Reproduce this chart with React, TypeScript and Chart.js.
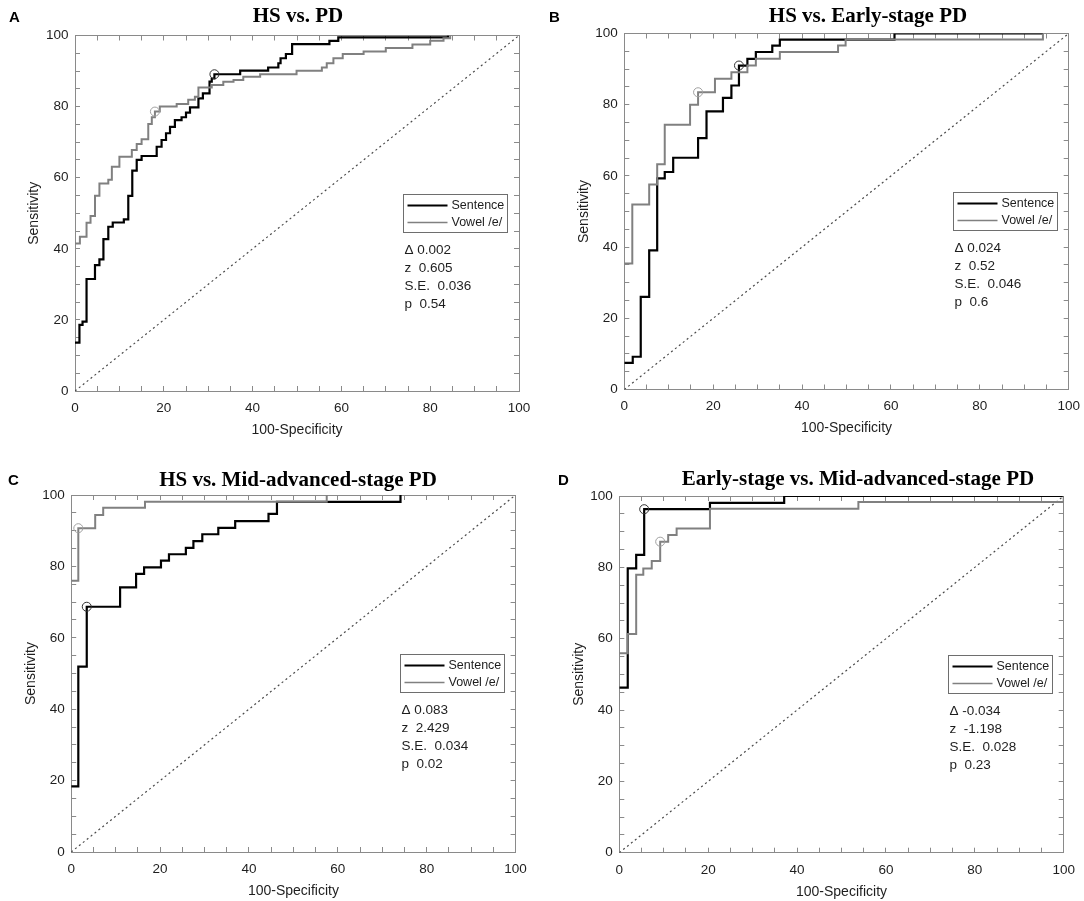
import React, { useEffect, useRef } from 'react';
import { Chart, registerables } from 'chart.js';

Chart.register(...registerables);

const SANS = '"Liberation Sans", Arial, Helvetica, sans-serif';
const SERIF = '"Liberation Serif", "Times New Roman", serif';

// ---------- data ----------
const titles = ['HS vs. PD', 'HS vs. Early-stage PD', 'HS vs. Mid-advanced-stage PD', 'Early-stage vs. Mid-advanced-stage PD'];
const letters = ['A', 'B', 'C', 'D'];
const seriesNames = ['Sentence', 'Vowel /e/'];
const xAxisTitle = '100-Specificity';
const yAxisTitle = 'Sensitivity';
const tickStep = 5;
const labelStep = 20;

// Panel A: HS vs. PD
const aSentenceX = [0, 1.0, 1.7, 2.6, 4.5, 5.5, 6.4, 7.5, 8.5, 11.0, 12.0, 12.9, 13.9, 15.0, 18.4, 19.5, 20.5, 21.4, 22.5, 24.0, 25.0, 25.9, 27.8, 28.8, 30.3, 30.8, 31.4, 37.2, 43.5, 45.8, 46.3, 47.5, 48.9, 57.3, 59.3, 84.0];
const aSentenceY = [13.6, 18.6, 19.5, 31.5, 35.4, 37.0, 42.7, 46.2, 47.4, 48.3, 54.9, 62.0, 65.0, 66.1, 68.7, 70.6, 72.5, 74.3, 76.2, 77.0, 78.3, 79.8, 82.3, 83.7, 87.0, 87.9, 89.1, 90.1, 91.0, 92.2, 93.6, 94.8, 97.6, 98.5, 99.5, 100];
const aVowelX = [0, 1.1, 2.6, 3.5, 4.5, 5.5, 7.5, 8.3, 10.0, 12.8, 13.9, 15.0, 16.5, 17.3, 18.0, 19.1, 22.9, 25.5, 27.0, 27.8, 30.8, 33.4, 35.7, 37.9, 41.7, 49.9, 55.6, 56.7, 58.2, 60.3, 65.0, 70.0, 76.0, 80.0, 83.0, 84.5];
const aVowelY = [41.5, 43.4, 47.3, 49.2, 54.9, 58.4, 59.4, 63.1, 65.9, 67.8, 69.5, 70.8, 75.1, 77.0, 78.6, 80.0, 80.7, 81.9, 82.8, 85.4, 86.1, 87.0, 87.5, 88.4, 89.1, 90.1, 91.0, 92.2, 93.6, 94.8, 95.5, 96.5, 97.5, 98.5, 99.2, 100];
const aOptimalX = [31.4, 18.0];
const aOptimalY = [89.1, 78.6];

// Panel B: HS vs. Early-stage PD
const bSentenceX = [0, 1.9, 3.7, 5.6, 7.4, 9.1, 11.0, 16.6, 18.5, 22.2, 24.1, 25.8, 27.7, 29.6, 33.3, 35.0, 60.8, 94.2];
const bSentenceY = [7.5, 9.2, 26.0, 39.1, 59.3, 61.1, 65.1, 70.6, 78.1, 81.9, 85.4, 91.0, 92.9, 94.8, 96.6, 98.3, 100, 100];
const bVowelX = [0, 1.8, 5.6, 7.4, 9.1, 14.8, 16.6, 20.4, 24.1, 27.7, 29.6, 35.0, 48.1, 49.8, 94.2];
const bVowelY = [35.4, 52.0, 57.6, 63.3, 74.4, 80.0, 83.5, 87.3, 89.1, 91.0, 92.9, 94.8, 96.6, 98.3, 100];
const bOptimalX = [25.8, 16.6];
const bOptimalY = [91.0, 83.5];

// Panel C: HS vs. Mid-advanced-stage PD
const cSentenceX = [0, 1.6, 3.5, 11.0, 14.6, 16.4, 20.2, 22.0, 25.8, 27.5, 29.5, 33.1, 36.9, 44.4, 46.3, 74.1];
const cSentenceY = [18.4, 51.9, 68.7, 74.1, 77.9, 79.7, 81.6, 83.4, 85.2, 87.1, 89.0, 90.8, 92.7, 94.7, 98.1, 100];
const cVowelX = [0, 1.6, 5.4, 7.2, 16.6, 57.5];
const cVowelY = [76.0, 90.7, 94.4, 96.4, 98.1, 100];
const cOptimalX = [3.5, 1.6];
const cOptimalY = [68.7, 90.7];

// Panel D: Early-stage vs. Mid-advanced-stage PD
const dSentenceX = [0, 1.9, 3.8, 5.6, 20.4, 37.1, 100];
const dSentenceY = [46.3, 79.7, 83.5, 96.3, 98.1, 100, 100];
const dVowelX = [0, 1.9, 3.8, 5.4, 7.3, 9.2, 11.0, 12.9, 20.4, 53.8, 100];
const dVowelY = [55.9, 61.3, 77.9, 79.7, 81.8, 87.2, 89.1, 90.9, 96.4, 98.3, 100];
const dOptimalX = [5.6, 9.2];
const dOptimalY = [96.3, 87.2];

// chance line
const chanceX = [0, 100];
const chanceY = [0, 100];

// comparison statistics
const deltaValues = ['0.002', '0.024', '0.083', '-0.034'];
const zValues = ['0.605', '0.52', '2.429', '-1.198'];
const seValues = ['0.036', '0.046', '0.034', '0.028'];
const pValues = ['0.54', '0.6', '0.02', '0.23'];

const sentenceXs = [aSentenceX, bSentenceX, cSentenceX, dSentenceX];
const sentenceYs = [aSentenceY, bSentenceY, cSentenceY, dSentenceY];
const vowelXs = [aVowelX, bVowelX, cVowelX, dVowelX];
const vowelYs = [aVowelY, bVowelY, cVowelY, dVowelY];
const optimalXs = [aOptimalX, bOptimalX, cOptimalX, dOptimalX];
const optimalYs = [aOptimalY, bOptimalY, cOptimalY, dOptimalY];

// ---------- layout (page coordinates) ----------
const LAYOUT = [
  { left: 0, top: 0, height: 452, area: { l: 75, t: 35.5, r: 519, b: 391 }, letter: [9, 18], title: [298, 21.5] },
  { left: 542, top: 0, height: 452, area: { l: 624.3, t: 33.5, r: 1068.7, b: 389.5 }, letter: [549, 18], title: [868, 21.5] },
  { left: 0, top: 455, height: 446, area: { l: 71.2, t: 495, r: 515.6, b: 852 }, letter: [8, 481], title: [298, 486] },
  { left: 542, top: 455, height: 446, area: { l: 619.3, t: 496, r: 1063.7, b: 852.7 }, letter: [558, 481], title: [858, 485] },
];
const RIGHT_PAD = 30;

const AXIS_COLOR = '#8a8a8a';
const TEXT_COLOR = '#1e1e1e';

const toPoints = (xs: number[], ys: number[]) => xs.map((x, i) => ({ x, y: ys[i] }));

function Panel({ idx }: { idx: number }) {
  const ref = useRef<HTMLCanvasElement | null>(null);
  const box = LAYOUT[idx];
  const width = Math.ceil(box.area.r - box.left + RIGHT_PAD);

  useEffect(() => {
    const a = box.area;
    const L = a.l - box.left;
    const T = a.t - box.top;
    const R = a.r - box.left;
    const B = a.b - box.top;
    const xAxisH = box.height - B;
    const titleLH = 14 * 1.2;

    const overlay = {
      id: 'overlay' + idx,
      afterDraw(chart: any) {
        const ctx = chart.ctx as CanvasRenderingContext2D;
        const ca = chart.chartArea;
        ctx.save();
        // panel letter
        ctx.fillStyle = '#000';
        ctx.font = `bold 15px ${SANS}`;
        ctx.textAlign = 'left';
        ctx.textBaseline = 'middle';
        ctx.fillText(letters[idx], box.letter[0] - box.left, box.letter[1] - box.top);
        // title
        ctx.font = `bold 21px ${SERIF}`;
        ctx.textAlign = 'center';
        ctx.textBaseline = 'alphabetic';
        ctx.fillText(titles[idx], box.title[0] - box.left, box.title[1] - box.top);
        // legend box
        const bw = 104;
        const bh = 38;
        const bx0 = Math.round(ca.right - 12 - bw) + 0.5;
        const by0 = Math.round(ca.top + 158.5) + 0.5;
        ctx.fillStyle = '#fff';
        ctx.fillRect(bx0, by0, bw, bh);
        ctx.strokeStyle = '#6e6e6e';
        ctx.lineWidth = 1;
        ctx.strokeRect(bx0, by0, bw, bh);
        const rows = [by0 + 11, by0 + 28];
        const lineColors = ['#000', '#808080'];
        const lineWidths = [2, 1.6];
        ctx.font = `12.5px ${SANS}`;
        ctx.textAlign = 'left';
        ctx.textBaseline = 'middle';
        for (let i = 0; i < 2; i++) {
          ctx.beginPath();
          ctx.strokeStyle = lineColors[i];
          ctx.lineWidth = lineWidths[i];
          ctx.moveTo(bx0 + 4, rows[i]);
          ctx.lineTo(bx0 + 44, rows[i]);
          ctx.stroke();
          ctx.fillStyle = TEXT_COLOR;
          ctx.fillText(seriesNames[i], bx0 + 48, rows[i] + 0.5);
        }
        // stats
        ctx.font = `13.5px ${SANS}`;
        const stats = [
          '\u0394 ' + deltaValues[idx],
          'z  ' + zValues[idx],
          'S.E.  ' + seValues[idx],
          'p  ' + pValues[idx],
        ];
        stats.forEach((s, i) => {
          ctx.fillText(s, bx0 + 1, by0 + 56 + i * 18);
        });
        ctx.restore();
      },
    };

    const tickFont = { family: SANS, size: 13.5 };
    const titleFont = { family: SANS, size: 14 };
    const labelCb = (v: any) => (Number(v) % labelStep === 0 ? String(v) : '');

    const chart = new Chart(ref.current as HTMLCanvasElement, {
      type: 'line',
      data: {
        datasets: [
          {
            label: 'optimal',
            data: toPoints(optimalXs[idx], optimalYs[idx]),
            showLine: false,
            pointRadius: 4.5,
            pointStyle: 'circle',
            pointBackgroundColor: 'rgba(0,0,0,0)',
            pointBorderColor: ['#333333', '#a0a0a0'],
            pointBorderWidth: 1,
            order: 0,
          } as any,
          {
            label: seriesNames[1],
            data: toPoints(vowelXs[idx], vowelYs[idx]),
            borderColor: '#808080',
            borderWidth: 2,
            pointRadius: 0,
            stepped: true,
            fill: false,
            order: 1,
          },
          {
            label: seriesNames[0],
            data: toPoints(sentenceXs[idx], sentenceYs[idx]),
            borderColor: '#000000',
            borderWidth: 2.2,
            pointRadius: 0,
            stepped: true,
            fill: false,
            order: 2,
          },
          {
            label: 'chance',
            data: toPoints(chanceX, chanceY),
            borderColor: '#4a4a4a',
            borderWidth: 1.2,
            borderDash: [2, 3],
            pointRadius: 0,
            fill: false,
            order: 3,
          },
        ],
      },
      options: {
        responsive: false,
        animation: false,
        events: [],
        layout: { padding: { left: 0, top: T, right: width - R, bottom: 0 } },
        plugins: { legend: { display: false }, tooltip: { enabled: false }, title: { display: false } },
        scales: {
          x: {
            type: 'linear',
            position: 'bottom',
            min: 0,
            max: 100,
            afterFit: (s: any) => { s.height = xAxisH; },
            ticks: { stepSize: tickStep, autoSkip: false, maxRotation: 0, minRotation: 0, padding: 14, color: TEXT_COLOR, font: tickFont, callback: labelCb },
            grid: { drawOnChartArea: false, drawTicks: true, tickLength: -5, color: AXIS_COLOR, lineWidth: 1 },
            border: { display: true, color: AXIS_COLOR, width: 1 },
            title: { display: true, text: xAxisTitle, color: TEXT_COLOR, font: titleFont, padding: { top: 0, bottom: xAxisH - 39 - titleLH / 2 } },
          },
          y: {
            type: 'linear',
            position: 'left',
            min: 0,
            max: 100,
            afterFit: (s: any) => { s.width = L; },
            ticks: { stepSize: tickStep, autoSkip: false, padding: 11.5, color: TEXT_COLOR, font: tickFont, callback: labelCb },
            grid: { drawOnChartArea: false, drawTicks: true, tickLength: -5, color: AXIS_COLOR, lineWidth: 1 },
            border: { display: true, color: AXIS_COLOR, width: 1 },
            title: { display: true, text: yAxisTitle, color: TEXT_COLOR, font: titleFont, padding: { top: L - 40.5 - titleLH / 2, bottom: 0 } },
          },
          x2: {
            type: 'linear',
            position: 'top',
            min: 0,
            max: 100,
            afterFit: (s: any) => { s.height = 0; },
            ticks: { display: false, stepSize: tickStep, autoSkip: false },
            grid: { drawOnChartArea: false, drawTicks: true, tickLength: -5, color: AXIS_COLOR, lineWidth: 1 },
            border: { display: true, color: AXIS_COLOR, width: 1 },
          },
          y2: {
            type: 'linear',
            position: 'right',
            min: 0,
            max: 100,
            afterFit: (s: any) => { s.width = 0; },
            ticks: { display: false, stepSize: tickStep, autoSkip: false },
            grid: { drawOnChartArea: false, drawTicks: true, tickLength: -5, color: AXIS_COLOR, lineWidth: 1 },
            border: { display: true, color: AXIS_COLOR, width: 1 },
          },
        },
      } as any,
      plugins: [overlay],
    });
    return () => chart.destroy();
  }, [idx]);

  return (
    <canvas
      ref={ref}
      width={width}
      height={box.height}
      style={{ position: 'absolute', left: box.left, top: box.top, width, height: box.height }}
    />
  );
}

export default function App() {
  return (
    <div style={{ position: 'absolute', left: 0, top: 0, width: 1084, height: 901, overflow: 'hidden', background: '#ffffff' }}>
      {LAYOUT.map((_, i) => (
        <Panel key={i} idx={i} />
      ))}
    </div>
  );
}
